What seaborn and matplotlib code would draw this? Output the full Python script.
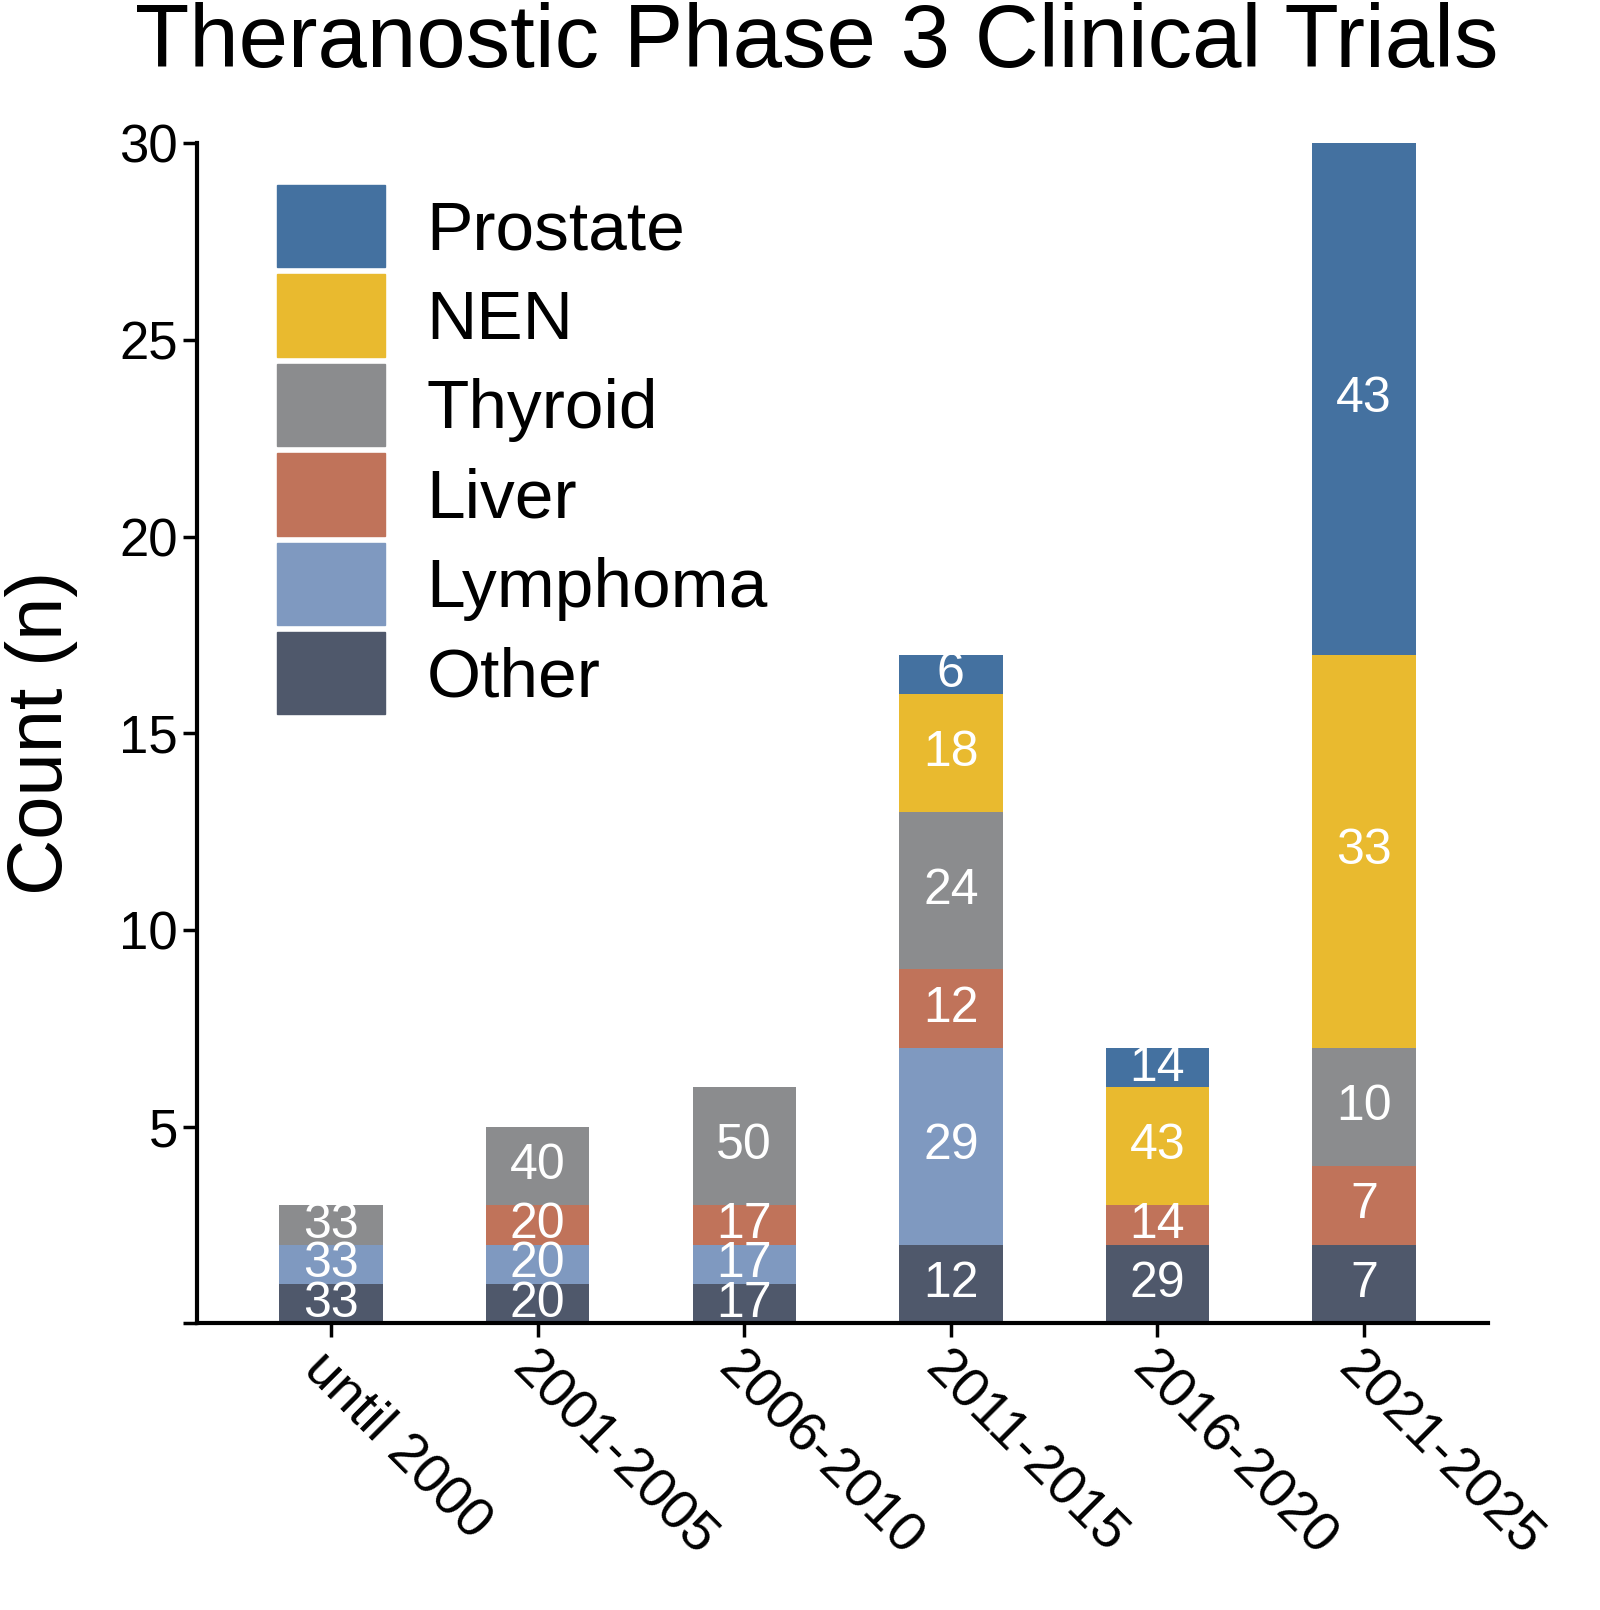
import matplotlib
matplotlib.use("Agg")
import matplotlib.pyplot as plt
import seaborn as sns
import numpy as np
from matplotlib.patches import Patch

periods = ["until 2000", "2001-2005", "2006-2010", "2011-2015", "2016-2020", "2021-2025"]
other    = [1, 1, 1, 2, 2, 2]
lymphoma = [1, 1, 1, 5, 0, 0]
liver    = [0, 1, 1, 2, 1, 2]
thyroid  = [1, 2, 3, 4, 0, 3]
nen      = [0, 0, 0, 3, 3, 10]
prostate = [0, 0, 0, 1, 1, 13]

series = [("Other", other, "#4F586B"), ("Lymphoma", lymphoma, "#7F99C0"),
          ("Liver", liver, "#C0735A"), ("Thyroid", thyroid, "#8B8C8E"),
          ("NEN", nen, "#E9BA2F"), ("Prostate", prostate, "#4471A0")]

sns.set_style("white")
plt.rcParams['font.family'] = ['Liberation Sans', 'DejaVu Sans']
plt.rcParams['text.color'] = 'black'
plt.rcParams['axes.labelcolor'] = 'black'
plt.rcParams['xtick.color'] = 'black'
plt.rcParams['ytick.color'] = 'black'

fig = plt.figure(figsize=(16, 16.1), dpi=100)
ax = fig.add_axes([0.123, 0.178, 0.807, 0.733])

totals = np.sum([s[1] for s in series], axis=0)
bottom = np.zeros(len(periods))
for name, vals, col in series:
    vals = np.array(vals, dtype=float)
    sns.barplot(x=periods, y=vals, bottom=bottom, color=col, width=0.5,
                ax=ax, saturation=1, linewidth=0)
    for i, v in enumerate(vals):
        if v > 0:
            pct = int(round(v / totals[i] * 100))
            ax.text(i, bottom[i] + v / 2, str(pct), ha="center", va="center",
                    color="white", fontsize=36)
    bottom += vals

ax.set_ylim(0, 30)
ax.set_xlim(-0.65, 5.6)
ax.set_yticks([0, 5, 10, 15, 20, 25, 30])
ax.set_yticklabels(["", "5", "10", "15", "20", "25", "30"])
ax.tick_params(axis="both", direction="out", length=10, width=2.5, labelsize=38,
               left=True, bottom=True)
for lab in ax.get_xticklabels():
    lab.set_rotation(-45)
    lab.set_ha("left")
    lab.set_rotation_mode("anchor")
    lab.set_fontsize(40)
sns.despine(ax=ax)
for s in ["left", "bottom"]:
    ax.spines[s].set_linewidth(3)
    ax.spines[s].set_color("black")
ax.set_ylabel("Count (n)", fontsize=56, labelpad=30)
ax.set_xlabel("")
ax.set_title("Theranostic Phase 3 Clinical Trials", fontsize=64, pad=55, x=0.48)

handles = [Patch(color=c, label=n) for n, _, c in series[::-1]]
ax.legend(handles=handles, loc="upper left", bbox_to_anchor=(0.03, 1.0),
          frameon=False, fontsize=50, handlelength=1.55, handleheight=1.45,
          labelspacing=0.1, handletextpad=0.6, borderaxespad=0.2)

fig.savefig("out.png", dpi=100)
